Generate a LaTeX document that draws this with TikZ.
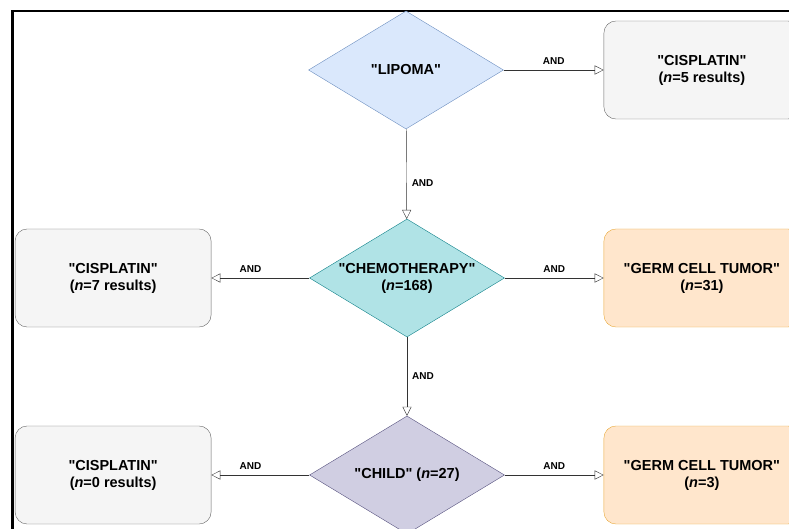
\documentclass[tikz,border=0pt]{standalone}
\usepackage{fontspec}
\setmainfont{Liberation Sans}
\usetikzlibrary{shapes.geometric,positioning,arrows.meta}

\definecolor{lipfill}{HTML}{DAE8FC}
\definecolor{lipline}{HTML}{6C8EBF}
\definecolor{chefill}{HTML}{B0E3E6}
\definecolor{cheline}{HTML}{0E8088}
\definecolor{chifill}{HTML}{D0CEE2}
\definecolor{chiline}{HTML}{56517E}
\definecolor{cisfill}{HTML}{F5F5F5}
\definecolor{cisline}{HTML}{666666}
\definecolor{gctfill}{HTML}{FFE6CC}
\definecolor{gctline}{HTML}{E8A838}

\newcommand{\qt}[1]{\textquotedbl#1\textquotedbl}

\tikzset{node distance=100pt, auto,
  term/.style={diamond, draw, aspect=1.65, inner sep=-4pt, minimum width=195pt, minimum height=118pt,
    align=center, font=\bfseries\fontsize{14.5}{17}\selectfont},
  hits/.style={rectangle, rounded corners=12pt, draw, minimum width=196pt, minimum height=98pt,
    align=center, font=\bfseries\fontsize{14.5}{17}\selectfont},
  link/.style={draw=black!80, -{Triangle[open, length=9pt, width=9pt]}},
  op/.style={font=\bfseries\fontsize{10}{11}\selectfont, inner sep=5pt}}

\begin{document}
\begin{tikzpicture}[x=1pt, y=-1pt]
  \useasboundingbox (0,0) rectangle (789,529);
  % cropped page frame
  \draw[line width=2.5pt] (12.5,529) -- (12.5,11) -- (789,11);

  \node[term, fill=lipfill, draw=lipline] (L) at (406,70) {\qt{LIPOMA}};
  \node[term, fill=chefill, draw=cheline] (C) at (407,278) {\qt{CHEMOTHERAPY}\\(\textit{n}=168)};
  \node[term, fill=chifill, draw=chiline] (K) at (407,475) {\qt{CHILD} (\textit{n}=27)};

  \node[hits, fill=cisfill, draw=cisline] (L1) [right=100pt of L] {\qt{CISPLATIN}\\(\textit{n}=5 results)};
  \node[hits, fill=cisfill, draw=cisline] (C1) [left=98pt of C] {\qt{CISPLATIN}\\(\textit{n}=7 results)};
  \node[hits, fill=gctfill, draw=gctline] (C2) [right=99pt of C] {\qt{GERM CELL TUMOR}\\(\textit{n}=31)};
  \node[hits, fill=cisfill, draw=cisline] (K1) [left=98pt of K] {\qt{CISPLATIN}\\(\textit{n}=0 results)};
  \node[hits, fill=gctfill, draw=gctline] (K2) [right=99pt of K] {\qt{GERM CELL TUMOR}\\(\textit{n}=3)};

  \draw[link] (L) to node[op] {AND} (L1);
  \draw[link] (L) to node[op, pos=0.6] {AND} (C);
  \draw[link] (C) to node[op, swap, pos=0.6] {AND} (C1);
  \draw[link] (C) to node[op] {AND} (C2);
  \draw[link] (C) to node[op] {AND} (K);
  \draw[link] (K) to node[op, swap, pos=0.6] {AND} (K1);
  \draw[link] (K) to node[op] {AND} (K2);
\end{tikzpicture}
\end{document}
